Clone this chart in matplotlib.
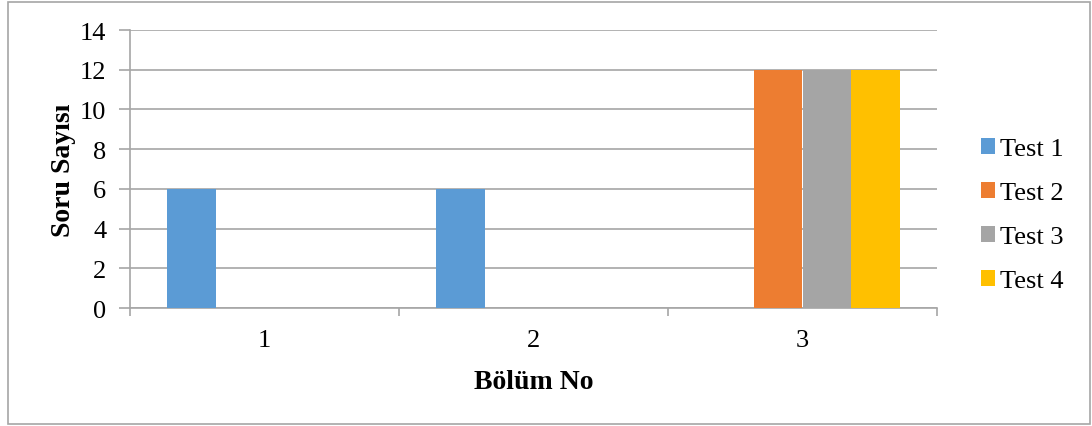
import matplotlib
matplotlib.use('Agg')
import matplotlib.pyplot as plt
from matplotlib.patches import Rectangle
import numpy as np

plt.rcParams['font.family'] = ['Liberation Serif', 'DejaVu Serif']

bolumler = ['1', '2', '3']
seriler = ['Test 1', 'Test 2', 'Test 3', 'Test 4']
test1 = [6, 6, 0]
test2 = [0, 0, 12]
test3 = [0, 0, 12]
test4 = [0, 0, 12]
renkler = ['#5b9bd5', '#ed7d31', '#a5a5a5', '#ffc000']
gri = '#a6a6a6'

fig = plt.figure(figsize=(10.92, 4.27), dpi=100)
ax = fig.add_axes([130/1092, 1 - 309/427, (937-130)/1092, (309-31)/427])

x = np.arange(1, len(bolumler) + 1)
w = 0.182
for k, (vals, ad) in enumerate(zip([test1, test2, test3, test4], seriler)):
    ax.bar(x + (k - 1.5) * w, vals, w, color=renkler[k], label=ad, zorder=3)

ax.set_xlim(0.5, 3.5)
ax.set_ylim(0, 14)
ax.set_yticks(range(0, 15, 2))
ax.set_xticks(x)
ax.set_xticklabels(bolumler)
ax.set_xticks(np.arange(0.5, 3.6, 1), minor=True)
ax.tick_params(axis='x', which='major', length=0, labelsize=19, pad=15)
ax.tick_params(axis='x', which='minor', length=6, color=gri, width=1.2)
ax.tick_params(axis='y', length=8, color=gri, width=1.2, labelsize=19, pad=9)
ax.yaxis.grid(True, color=gri, linewidth=1.2, zorder=0)
for s in ['top', 'right']:
    ax.spines[s].set_visible(False)
for s in ['left', 'bottom']:
    ax.spines[s].set_color(gri)
    ax.spines[s].set_linewidth(1.2)

ax.set_xlabel('Bölüm No', fontsize=20, fontweight='bold', labelpad=13)
ax.set_ylabel('Soru Sayısı', fontsize=20, fontweight='bold', labelpad=3)

fig.legend(loc='center left', bbox_to_anchor=(970/1092, 1 - 216/427), frameon=False,
           fontsize=19, handlelength=0.55, handleheight=0.55, handletextpad=0.2,
           labelspacing=0.82, borderaxespad=0)

fig.patches.append(Rectangle((8/1092, 2/427), 1082/1092, 422/427, transform=fig.transFigure,
                             fill=False, edgecolor=gri, linewidth=1.2))

fig.savefig('out.png', dpi=100)
